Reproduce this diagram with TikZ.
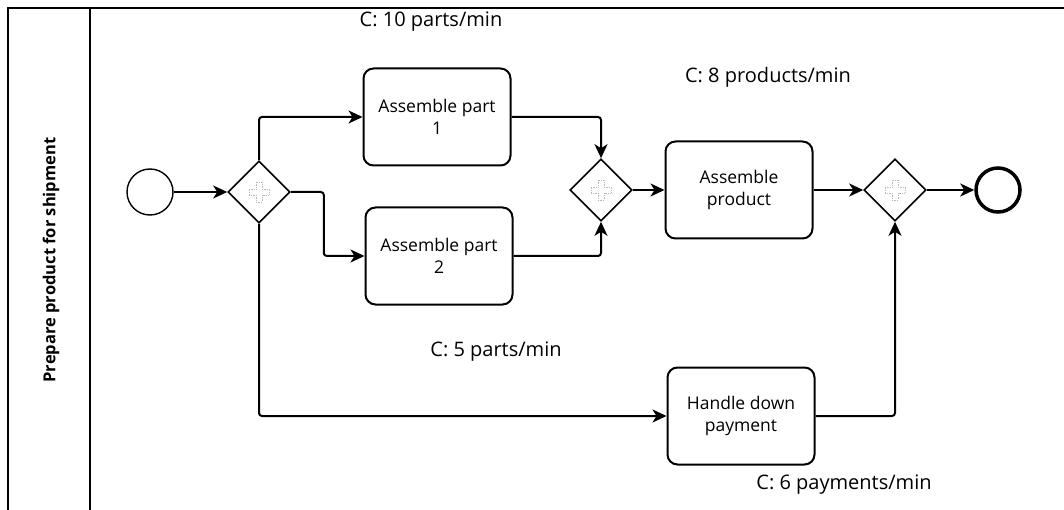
\documentclass[tikz,border=0pt]{standalone}
\usepackage{fontspec}
\setmainfont{Open Sans}
\usetikzlibrary{shapes.geometric,arrows.meta,calc}
\tikzset{
  task/.style={draw, line width=2pt, rounded corners=10pt, minimum width=147pt, minimum height=97pt, align=center, font=\fontsize{17.5}{22}\selectfont, inner sep=2pt},
  gw/.style={draw, diamond, line width=1.6pt, minimum width=62pt, minimum height=62pt, inner sep=0pt, fill=white},
  flow/.style={line width=2pt, rounded corners=3pt, -{Stealth[length=14pt,width=13pt,inset=4pt]}},
  lbl/.style={font=\fontsize{20}{24}\selectfont},
  gwplus/.pic={\draw[gray!55, line width=0.7pt, densely dotted] (-3,10) -- (3,10) -- (3,3) -- (10,3) -- (10,-3) -- (3,-3) -- (3,-10) -- (-3,-10) -- (-3,-3) -- (-10,-3) -- (-10,3) -- (-3,3) -- cycle;}
}
\begin{document}
\begin{tikzpicture}[x=1pt,y=-1pt]
\useasboundingbox (0,0) rectangle (1064,510);
% pool frame
\draw[line width=2pt] (8,510) -- (8,8) -- (1064,8);
\draw[line width=2pt] (90,8) -- (90,510);
\node[rotate=90, font=\fontsize{16.5}{20}\selectfont\bfseries] (lane) at (51,260) {Prepare product for shipment};
% nodes
\node[draw, circle, line width=1.4pt, minimum size=46pt, inner sep=0pt] (start) at (150,192) {};
\node[gw] (g1) at (259,192) {};
\node[task] (t1) at (437,117) {Assemble part\\1};
\node[task] (t2) at (439,256) {Assemble part\\2};
\node[gw] (g2) at (601,190) {};
\node[task] (ap) at (739,190) {Assemble\\product};
\node[gw] (g3) at (895,190) {};
\node[draw, circle, line width=3.5pt, minimum size=44pt, inner sep=0pt] (end) at (998,190) {};
\node[task] (hp) at (741,416) {Handle down\\payment};
\pic at (g1) {gwplus};
\pic at (g2) {gwplus};
\pic at (g3) {gwplus};
% labels
\node[lbl] (l1) at (431,22) {C: 10 parts/min};
\node[lbl] (l2) at (768,77) {C: 8 products/min};
\node[lbl] (l3) at (496,352) {C: 5 parts/min};
\node[lbl] (l4) at (844,485) {C: 6 payments/min};
% flows
\draw[flow] (start) -- (g1);
\draw[flow] (g1.north) |- (t1.west);
\draw[flow] (g1.east) -- ++(33,0) |- (t2.west);
\draw[flow] (g1.south) |- (hp.west);
\draw[flow] (t1.east) -| (g2.north);
\draw[flow] (t2.east) -| (g2.south);
\draw[flow] (g2.east) -- (ap.west);
\draw[flow] (ap.east) -- (g3.west);
\draw[flow] (hp.east) -| (g3.south);
\draw[flow] (g3.east) -- (end.west);
\end{tikzpicture}
\end{document}
